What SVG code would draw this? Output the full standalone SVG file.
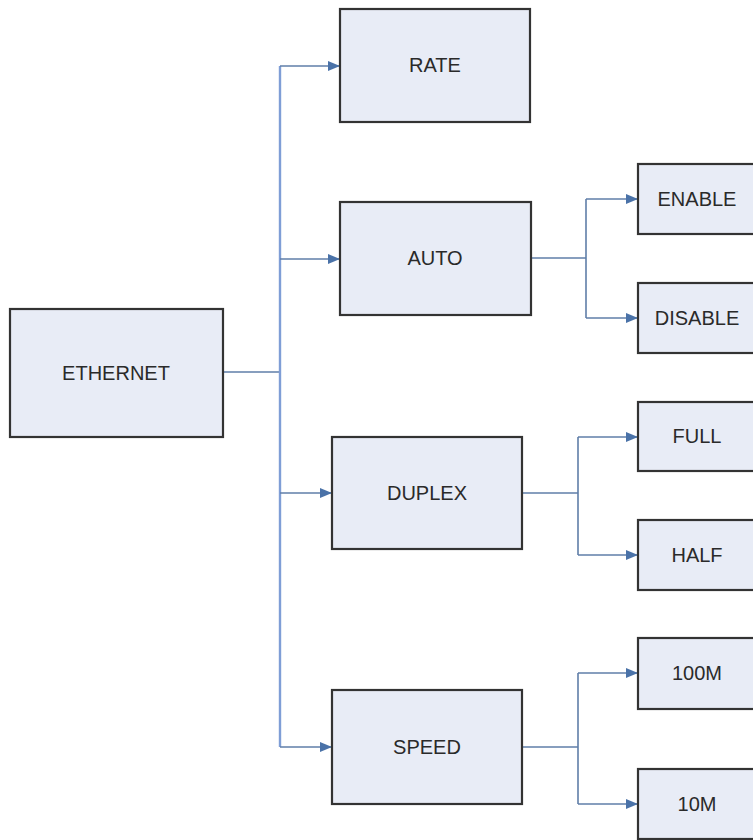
<svg xmlns="http://www.w3.org/2000/svg" width="753" height="840" viewBox="0 0 753 840">
<style>
.box{fill:#e8ecf6;stroke:#333333;stroke-width:2.2}
.lbl{font-family:"Liberation Sans",Arial,sans-serif;font-size:20px;fill:#2a2a2a;text-anchor:middle;dominant-baseline:central}
.c{fill:none;stroke:#5f7ea8;stroke-width:1.6}
.trunk{fill:none;stroke:#7f9ed6;stroke-width:2.4}
</style>
<defs>
<marker id="ah" viewBox="0 0 12 10" refX="12" refY="5" markerWidth="12" markerHeight="10" markerUnits="userSpaceOnUse" orient="auto">
<path d="M0,0 L12,5 L0,10 z" fill="#4a72a8"/>
</marker>
</defs>
<rect width="753" height="840" fill="#ffffff"/>
<g id="connectors">
<path class="c" d="M223,372 H280"/>
<path class="trunk" d="M280,66 V747"/>
<path class="c" d="M280,66 H340" marker-end="url(#ah)"/>
<path class="c" d="M280,259 H340" marker-end="url(#ah)"/>
<path class="c" d="M280,493 H332" marker-end="url(#ah)"/>
<path class="c" d="M280,747 H332" marker-end="url(#ah)"/>
<path class="c" d="M531,258 H586"/>
<path class="c" d="M586,199 V318"/>
<path class="c" d="M586,199 H638" marker-end="url(#ah)"/>
<path class="c" d="M586,318 H638" marker-end="url(#ah)"/>
<path class="c" d="M522,493 H578"/>
<path class="c" d="M578,437 V555"/>
<path class="c" d="M578,437 H638" marker-end="url(#ah)"/>
<path class="c" d="M578,555 H638" marker-end="url(#ah)"/>
<path class="c" d="M522,747 H578"/>
<path class="c" d="M578,673 V804"/>
<path class="c" d="M578,673 H638" marker-end="url(#ah)"/>
<path class="c" d="M578,804 H638" marker-end="url(#ah)"/>
</g>
<g id="ethernet"><rect class="box" x="10" y="309" width="213" height="128"/><text class="lbl" x="116" y="373">ETHERNET</text></g>
<g id="rate"><rect class="box" x="340" y="9" width="190" height="113"/><text class="lbl" x="435" y="65">RATE</text></g>
<g id="auto"><rect class="box" x="340" y="202" width="191" height="113"/><text class="lbl" x="435" y="258">AUTO</text></g>
<g id="duplex"><rect class="box" x="332" y="437" width="190" height="112"/><text class="lbl" x="427" y="493">DUPLEX</text></g>
<g id="speed"><rect class="box" x="332" y="690" width="190" height="114"/><text class="lbl" x="427" y="747">SPEED</text></g>
<g id="enable"><rect class="box" x="638" y="164" width="120" height="70"/><text class="lbl" x="697" y="199">ENABLE</text></g>
<g id="disable"><rect class="box" x="638" y="283" width="120" height="70"/><text class="lbl" x="697" y="318">DISABLE</text></g>
<g id="full"><rect class="box" x="638" y="402" width="120" height="69"/><text class="lbl" x="697" y="436">FULL</text></g>
<g id="half"><rect class="box" x="638" y="520" width="120" height="70"/><text class="lbl" x="697" y="555">HALF</text></g>
<g id="m100"><rect class="box" x="638" y="638" width="120" height="71"/><text class="lbl" x="697" y="673">100M</text></g>
<g id="m10"><rect class="box" x="638" y="769" width="120" height="70"/><text class="lbl" x="697" y="804">10M</text></g>
</svg>
